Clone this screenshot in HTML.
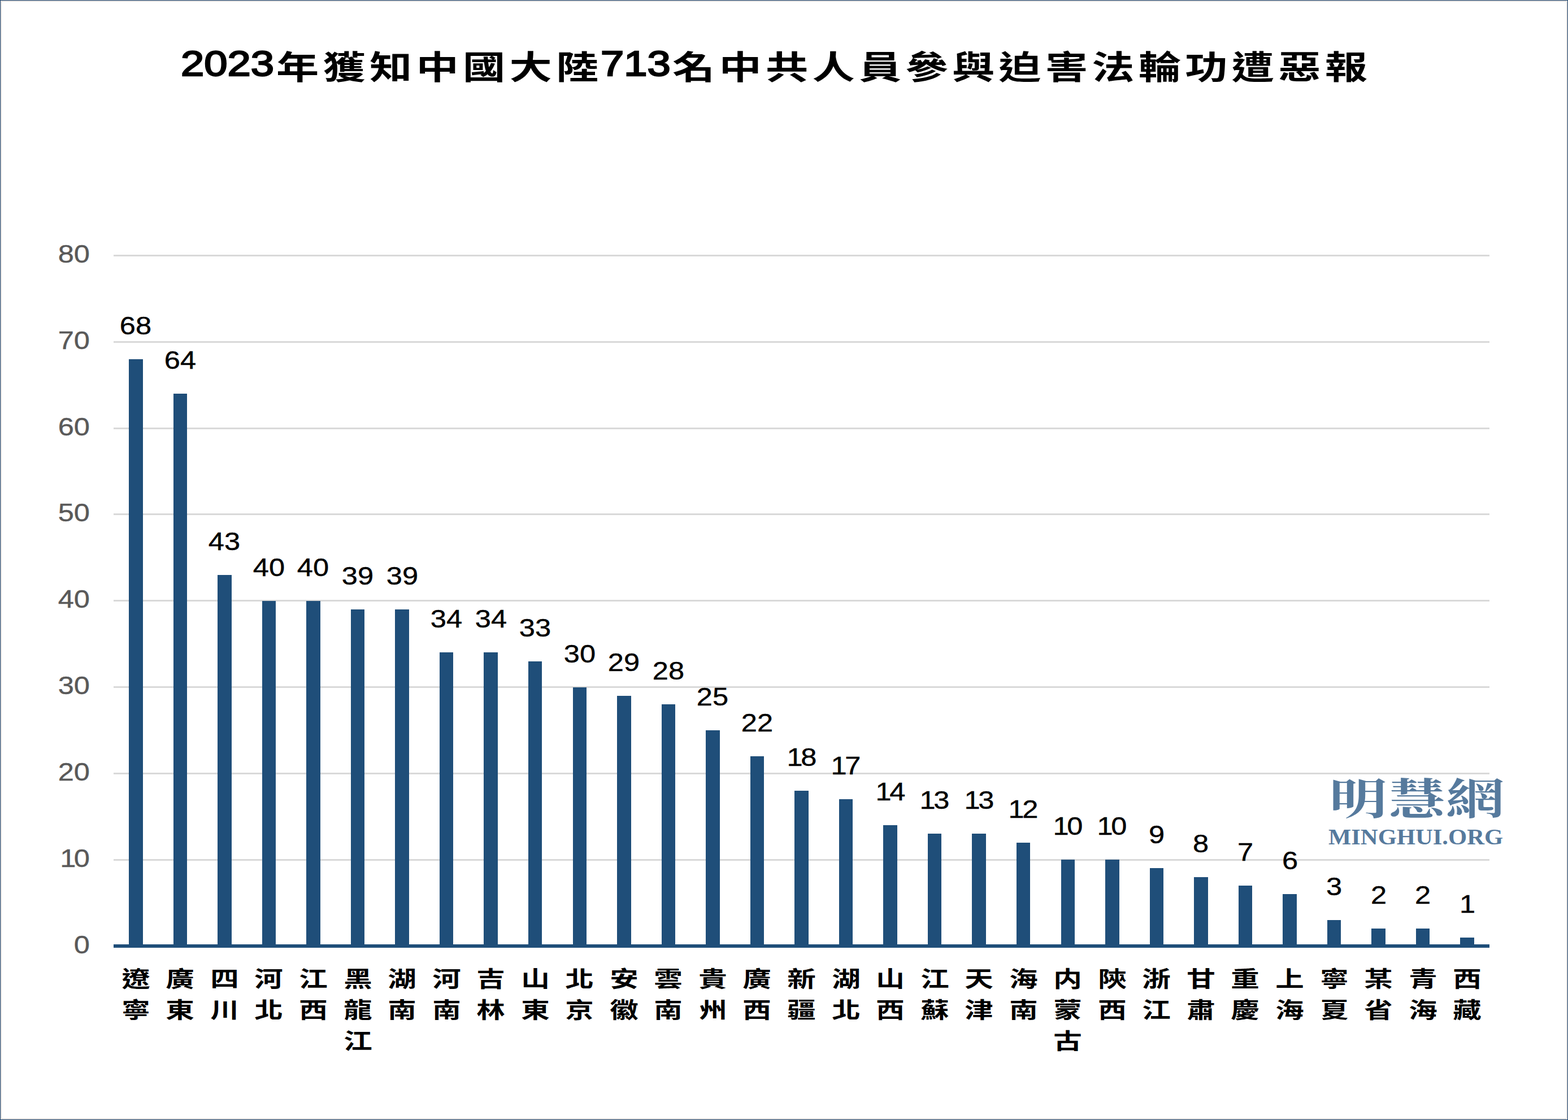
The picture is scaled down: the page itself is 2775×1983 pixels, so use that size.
<!DOCTYPE html>
<html lang="zh-Hant">
<head>
<meta charset="utf-8">
<title>2023年獲知中國大陸713名中共人員參與迫害法輪功遭惡報</title>
<style>
html,body{margin:0;padding:0;background:#fff}
body{width:2775px;height:1983px;position:relative;overflow:hidden;font-family:"Liberation Sans",sans-serif}
#chart{position:absolute;left:0;top:0;width:2775px;height:1983px;box-shadow:inset 0 0 0 1px #17406d,inset 0 0 0 2px #e4e0dd,inset 0 0 0 3px #d9d9d9;background:#fff}
#gfx{position:absolute;left:0;top:0}
.yl{position:absolute;left:59px;width:100px;height:44px;line-height:44px;text-align:right;font-size:43.6px;color:#595959;transform:scaleX(1.16);transform-origin:100% 50%;white-space:nowrap;-webkit-text-stroke:0.4px #595959}
.dl{position:absolute;width:100px;height:44px;line-height:44px;text-align:center;font-size:43.6px;color:#000;transform:scaleX(1.16);transform-origin:50% 50%;white-space:nowrap;-webkit-text-stroke:0.4px #000}
.yl i,.dl i{font-style:normal;letter-spacing:-3px}
.td{position:absolute;top:74px;height:76px;line-height:76px;font-size:63.4px;font-weight:normal;-webkit-text-stroke:2.4px #000;color:#000;transform:scaleX(1.17);transform-origin:0 50%;white-space:nowrap}
h1{position:absolute;margin:0;left:0;top:0;width:2775px;height:190px;font-weight:normal;font-size:82.5px}
.tc{position:absolute;top:77.5px;height:83px;line-height:83px;font-family:"Liberation Sans","Noto Sans CJK TC",sans-serif;font-size:58.09px;font-weight:bold;letter-spacing:5.56px;color:#000;white-space:nowrap;transform:scaleX(1.2961);transform-origin:0 50%}
.xl{position:absolute;top:1706px;width:55px;line-height:55.2px;font-family:"Liberation Sans","Noto Sans CJK TC",sans-serif;font-size:38.49px;font-weight:bold;text-align:center;color:#000;transform:scaleX(1.3128);transform-origin:50% 0}
.logo1{position:absolute;left:2352px;top:1366px;width:310px;height:100px;line-height:100px;font-family:"Liberation Serif","Noto Serif CJK SC",serif;font-size:76px;font-weight:bold;color:#567a9d;white-space:nowrap;letter-spacing:0px;transform:scaleX(1.36);transform-origin:0 50%}
.logo2{position:absolute;left:2351.2px;top:1456.6px;height:48px;line-height:48px;font-family:"Liberation Serif",serif;font-weight:bold;font-size:41px;letter-spacing:0px;color:#567a9d;white-space:nowrap;-webkit-text-stroke:0px #567a9d;transform:scaleX(1.04);transform-origin:0 50%}
</style>
</head>
<body>
<div id="chart">
<svg id="gfx" width="2775" height="1983" viewBox="0 0 2775 1983" role="img" aria-label="2023年獲知中國大陸713名中共人員參與迫害法輪功遭惡報 柱狀圖">
<rect x="201" y="1521" width="2435" height="3" fill="#d9d9d9"/>
<rect x="201" y="1368" width="2435" height="3" fill="#d9d9d9"/>
<rect x="201" y="1215" width="2435" height="3" fill="#d9d9d9"/>
<rect x="201" y="1062" width="2435" height="3" fill="#d9d9d9"/>
<rect x="201" y="909" width="2435" height="3" fill="#d9d9d9"/>
<rect x="201" y="757" width="2435" height="3" fill="#d9d9d9"/>
<rect x="201" y="604" width="2435" height="3" fill="#d9d9d9"/>
<rect x="201" y="451" width="2435" height="3" fill="#d9d9d9"/>
<g fill="#1f4e79"><rect x="228" y="636" width="25" height="1039"/><rect x="307" y="697" width="24" height="978"/><rect x="385" y="1018" width="25" height="657"/><rect x="464" y="1064" width="24" height="611"/><rect x="542" y="1064" width="25" height="611"/><rect x="621" y="1079" width="24" height="596"/><rect x="699" y="1079" width="25" height="596"/><rect x="778" y="1155" width="24" height="520"/><rect x="856" y="1155" width="25" height="520"/><rect x="935" y="1171" width="24" height="504"/><rect x="1014" y="1217" width="24" height="458"/><rect x="1092" y="1232" width="25" height="443"/><rect x="1171" y="1247" width="24" height="428"/><rect x="1249" y="1293" width="25" height="382"/><rect x="1328" y="1339" width="24" height="336"/><rect x="1406" y="1400" width="25" height="275"/><rect x="1485" y="1415" width="24" height="260"/><rect x="1563" y="1461" width="25" height="214"/><rect x="1642" y="1476" width="24" height="199"/><rect x="1720" y="1476" width="25" height="199"/><rect x="1799" y="1492" width="24" height="183"/><rect x="1878" y="1522" width="24" height="153"/><rect x="1956" y="1522" width="25" height="153"/><rect x="2035" y="1537" width="24" height="138"/><rect x="2113" y="1553" width="25" height="122"/><rect x="2192" y="1568" width="24" height="107"/><rect x="2270" y="1583" width="25" height="92"/><rect x="2349" y="1629" width="24" height="46"/><rect x="2427" y="1644" width="25" height="31"/><rect x="2506" y="1644" width="24" height="31"/><rect x="2584" y="1660" width="25" height="15"/><rect x="201" y="1672" width="2435" height="6"/></g>
</svg>
<h1><span class="td" style="left:320.45px">2023</span><span class="tc" style="left:488.85px">年獲知中國大陸</span><span class="td" style="left:1062.95px">713</span><span class="tc" style="left:1190.1px">名中共人員參與迫害法輪功遭惡報</span></h1>
<div class="yl" style="top:1650.5px">0</div>
<div class="yl" style="top:1497.69px"><i>1</i>0</div>
<div class="yl" style="top:1344.88px">20</div>
<div class="yl" style="top:1192.07px">30</div>
<div class="yl" style="top:1039.26px">40</div>
<div class="yl" style="top:886.45px">50</div>
<div class="yl" style="top:733.64px">60</div>
<div class="yl" style="top:580.83px">70</div>
<div class="yl" style="top:428.02px">80</div>
<div class="dl" style="left:190.27px;top:555px">68</div>
<div class="dl" style="left:268.82px;top:616px">64</div>
<div class="dl" style="left:347.37px;top:937px">43</div>
<div class="dl" style="left:425.92px;top:983px">40</div>
<div class="dl" style="left:504.47px;top:983px">40</div>
<div class="dl" style="left:583.02px;top:998px">39</div>
<div class="dl" style="left:661.56px;top:998px">39</div>
<div class="dl" style="left:740.11px;top:1074px">34</div>
<div class="dl" style="left:818.66px;top:1074px">34</div>
<div class="dl" style="left:897.21px;top:1090px">33</div>
<div class="dl" style="left:975.76px;top:1136px">30</div>
<div class="dl" style="left:1054.31px;top:1151px">29</div>
<div class="dl" style="left:1132.85px;top:1166px">28</div>
<div class="dl" style="left:1211.4px;top:1212px">25</div>
<div class="dl" style="left:1289.95px;top:1258px">22</div>
<div class="dl" style="left:1368.5px;top:1319px"><i>1</i>8</div>
<div class="dl" style="left:1447.05px;top:1334px"><i>1</i>7</div>
<div class="dl" style="left:1525.6px;top:1380px"><i>1</i>4</div>
<div class="dl" style="left:1604.15px;top:1395px"><i>1</i>3</div>
<div class="dl" style="left:1682.69px;top:1395px"><i>1</i>3</div>
<div class="dl" style="left:1761.24px;top:1411px"><i>1</i>2</div>
<div class="dl" style="left:1839.79px;top:1441px"><i>1</i>0</div>
<div class="dl" style="left:1918.34px;top:1441px"><i>1</i>0</div>
<div class="dl" style="left:1996.89px;top:1456px">9</div>
<div class="dl" style="left:2075.44px;top:1472px">8</div>
<div class="dl" style="left:2153.98px;top:1487px">7</div>
<div class="dl" style="left:2232.53px;top:1502px">6</div>
<div class="dl" style="left:2311.08px;top:1548px">3</div>
<div class="dl" style="left:2389.63px;top:1563px">2</div>
<div class="dl" style="left:2468.18px;top:1563px">2</div>
<div class="dl" style="left:2546.73px;top:1579px">1</div>
<div class="xl" style="left:212.77px">遼<br>寧</div>
<div class="xl" style="left:291.32px">廣<br>東</div>
<div class="xl" style="left:369.87px">四<br>川</div>
<div class="xl" style="left:448.42px">河<br>北</div>
<div class="xl" style="left:526.97px">江<br>西</div>
<div class="xl" style="left:605.52px">黑<br>龍<br>江</div>
<div class="xl" style="left:684.06px">湖<br>南</div>
<div class="xl" style="left:762.61px">河<br>南</div>
<div class="xl" style="left:841.16px">吉<br>林</div>
<div class="xl" style="left:919.71px">山<br>東</div>
<div class="xl" style="left:998.26px">北<br>京</div>
<div class="xl" style="left:1076.81px">安<br>徽</div>
<div class="xl" style="left:1155.35px">雲<br>南</div>
<div class="xl" style="left:1233.9px">貴<br>州</div>
<div class="xl" style="left:1312.45px">廣<br>西</div>
<div class="xl" style="left:1391px">新<br>疆</div>
<div class="xl" style="left:1469.55px">湖<br>北</div>
<div class="xl" style="left:1548.1px">山<br>西</div>
<div class="xl" style="left:1626.65px">江<br>蘇</div>
<div class="xl" style="left:1705.19px">天<br>津</div>
<div class="xl" style="left:1783.74px">海<br>南</div>
<div class="xl" style="left:1862.29px">内<br>蒙<br>古</div>
<div class="xl" style="left:1940.84px">陝<br>西</div>
<div class="xl" style="left:2019.39px">浙<br>江</div>
<div class="xl" style="left:2097.94px">甘<br>肅</div>
<div class="xl" style="left:2176.48px">重<br>慶</div>
<div class="xl" style="left:2255.03px">上<br>海</div>
<div class="xl" style="left:2333.58px">寧<br>夏</div>
<div class="xl" style="left:2412.13px">某<br>省</div>
<div class="xl" style="left:2490.68px">青<br>海</div>
<div class="xl" style="left:2569.23px">西<br>藏</div>
<div class="logo1">明慧網</div>
<div class="logo2">MINGHUI.ORG</div>
</div>
</body>
</html>
